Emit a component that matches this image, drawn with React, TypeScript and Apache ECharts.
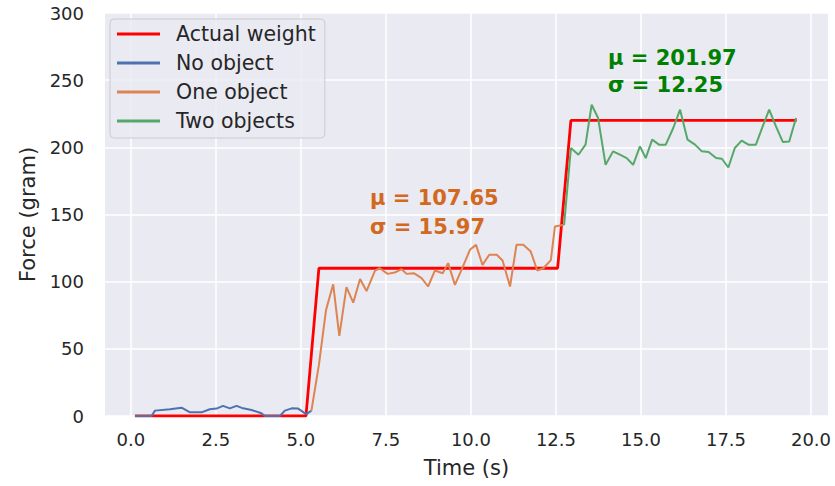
import React, { useEffect, useRef } from "react";
import * as echarts from "echarts";

// Reference weight (step profile)
const actualTime = [0.12, 5.15, 5.53, 12.55, 12.94, 19.58];
const actualForce = [0, 0, 110, 110, 220, 220];

// Sensor reading with an empty plate
const noObjTime = [0.12, 0.61, 0.71, 1.15, 1.49, 1.74, 2.08, 2.32, 2.52, 2.71, 2.91, 3.11, 3.3, 3.55, 3.84, 3.94, 4.38, 4.53, 4.73, 4.92, 5.09, 5.17, 5.31];
const noObjForce = [0, 0, 4, 5, 6.2, 2.7, 2.7, 5, 5.5, 7.5, 5.7, 7.5, 5.7, 4.5, 2, 0, 0, 4, 5.7, 5.5, 2.5, 1.5, 4];

// Sensor reading with one object
const oneObjTime = [5.31, 5.53, 5.74, 5.95, 6.13, 6.34, 6.54, 6.74, 6.93, 7.18, 7.32, 7.55, 7.76, 7.96, 8.11, 8.32, 8.55, 8.74, 8.94, 9.17, 9.33, 9.53, 9.76, 9.97, 10.15, 10.34, 10.54, 10.76, 10.93, 11.15, 11.34, 11.54, 11.76, 11.95, 12.13, 12.35, 12.47, 12.74];
const oneObjForce = [4, 38, 79, 98, 59.6, 96, 84.4, 102, 93, 108.3, 110, 105.8, 106.8, 109.3, 105.8, 106.3, 102.6, 96.4, 108.3, 106.3, 113.8, 97.6, 111, 123.7, 127.4, 112.5, 120, 120, 115.7, 96.4, 127.4, 127.4, 122.4, 108.3, 110, 116, 141, 142.3];

// Sensor reading with two objects
const twoObjTime = [12.74, 12.94, 13.16, 13.37, 13.55, 13.74, 13.96, 14.18, 14.38, 14.58, 14.77, 14.97, 15.14, 15.33, 15.53, 15.73, 15.95, 16.15, 16.37, 16.59, 16.79, 16.99, 17.21, 17.38, 17.57, 17.76, 17.96, 18.16, 18.38, 18.58, 18.77, 18.97, 19.17, 19.36, 19.56];
const twoObjForce = [142.3, 199.5, 194.5, 202, 231.7, 221.8, 187, 197, 194.5, 192, 187, 200.7, 192, 205.7, 202, 202, 214.4, 228, 205.7, 202, 197, 196.5, 192, 191.5, 185, 199.5, 205, 202, 202, 215.6, 228, 215.6, 204, 204.4, 221.8];

const xTicks = [0, 2.5, 5, 7.5, 10, 12.5, 15, 17.5, 20];
const seriesNames = ["Actual weight", "No object", "One object", "Two objects"];

const oneObjStats = ["μ = 107.65", "σ = 15.97"];
const twoObjStats = ["μ = 201.97", "σ = 12.25"];

const FONT = "DejaVu Sans";
const TEXT = "#262626";

const zip = (xs: number[], ys: number[]) => xs.map((x, i) => [x, ys[i]]);

export default function App() {
  const ref = useRef<HTMLDivElement>(null);

  useEffect(() => {
    if (!ref.current) return;
    const chart = echarts.init(ref.current, undefined, { renderer: "svg" });

    const line = (name: string, data: number[][], color: string, width: number) => ({
      name,
      type: "line",
      data,
      showSymbol: false,
      symbol: "none",
      lineStyle: { color, width },
      itemStyle: { color },
      emphasis: { disabled: true },
    });

    chart.setOption({
      animation: false,
      backgroundColor: "#ffffff",
      textStyle: { fontFamily: FONT },
      grid: {
        left: 105,
        right: 7,
        top: 13,
        bottom: 70,
        show: true,
        backgroundColor: "#eaeaf2",
        borderWidth: 0,
      },
      xAxis: {
        type: "value",
        min: -0.76,
        max: 20.5,
        name: "Time (s)",
        nameLocation: "middle",
        nameGap: 41,
        nameTextStyle: { color: TEXT, fontSize: 21, fontFamily: FONT },
        axisLine: { show: false },
        axisTick: { show: false, customValues: xTicks },
        axisLabel: {
          customValues: xTicks,
          formatter: (v: number) => v.toFixed(1),
          color: TEXT,
          fontSize: 18,
          fontFamily: FONT,
          margin: 14,
        },
        splitLine: { show: true, lineStyle: { color: "#ffffff", width: 1.5 } },
      },
      yAxis: {
        type: "value",
        min: 0,
        max: 300,
        interval: 50,
        name: "Force (gram)",
        nameLocation: "middle",
        nameGap: 67,
        nameTextStyle: { color: TEXT, fontSize: 21, fontFamily: FONT },
        axisLine: { show: false },
        axisTick: { show: false },
        axisLabel: { color: TEXT, fontSize: 18, fontFamily: FONT, margin: 21 },
        splitLine: { show: true, lineStyle: { color: "#ffffff", width: 1.5 } },
      },
      legend: {
        orient: "vertical",
        left: 110,
        top: 19,
        data: seriesNames,
        icon: "rect",
        itemWidth: 43,
        itemHeight: 3,
        itemGap: 7,
        padding: [4, 9, 6, 7],
        backgroundColor: "rgba(234,234,242,0.8)",
        borderColor: "#cccccc",
        borderWidth: 1,
        borderRadius: 4,
        textStyle: {
          color: TEXT,
          fontSize: 20.5,
          fontFamily: FONT,
          lineHeight: 22,
          padding: [0, 0, 0, 11],
        },
      },
      graphic: [
        {
          type: "text",
          x: 370,
          y: 183,
          z: 100,
          style: {
            text: oneObjStats.join("\n"),
            font: `bold 21px "${FONT}"`,
            fill: "#d2691e",
            lineHeight: 29,
          },
        },
        {
          type: "text",
          x: 608,
          y: 44,
          z: 100,
          style: {
            text: twoObjStats.join("\n"),
            font: `bold 21px "${FONT}"`,
            fill: "#008000",
            lineHeight: 27,
          },
        },
      ],
      series: [
        line(seriesNames[0], zip(actualTime, actualForce), "#ff0000", 2.8),
        line(seriesNames[1], zip(noObjTime, noObjForce), "#4c72b0", 2),
        line(seriesNames[2], zip(oneObjTime, oneObjForce), "#dd8452", 2),
        line(seriesNames[3], zip(twoObjTime, twoObjForce), "#55a868", 2),
      ],
    });

    return () => chart.dispose();
  }, []);

  return (
    <div
      ref={ref}
      style={{ position: "fixed", left: 0, top: 0, width: 835, height: 486 }}
    />
  );
}
